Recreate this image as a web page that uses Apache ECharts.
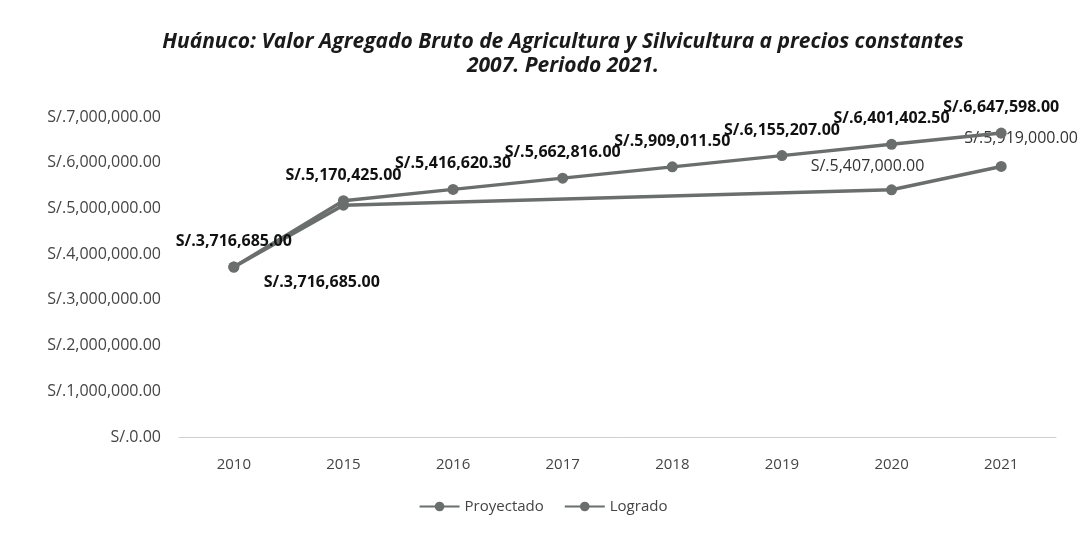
<!DOCTYPE html>
<html><head><meta charset="utf-8">
<script src="https://cdn.jsdelivr.net/npm/echarts@6/dist/echarts.min.js"></script>
<style>html,body{margin:0;padding:0;background:#fff;}#c{width:1086px;height:541px;}</style>
</head><body><div id="c"></div>
<script>
var categories = ['2010','2015','2016','2017','2018','2019','2020','2021'];
var proyectado = [3716685, 5170425, 5416620.30, 5662816, 5909011.50, 6155207, 6401402.50, 6647598];
var logrado = [3716685, 5070000, null, null, null, null, 5407000, 5919000];
var logradoLabeled = [true, false, false, false, false, false, true, true];
var yMin = 0, yMax = 7000000, yStep = 1000000;

function fmt(v){
  var s = v.toFixed(2).split('.');
  return 'S/.' + s[0].replace(/\B(?=(\d{3})+(?!\d))/g, ',') + '.' + s[1];
}
var FONT = '"Open Sans", Lato, sans-serif';
var GREY = '#6a6e6d';

var logradoData = logrado.map(function(v, i){
  if (v === null) return null;
  var lab = {show: logradoLabeled[i]};
  if (i === 0) { lab.position = 'bottom'; lab.offset = [88, -8]; lab.fontWeight = 'bold'; lab.color = '#111'; }
  if (i === 6) { lab.position = 'top'; lab.offset = [-24, 0]; lab.fontWeight = 'normal'; lab.color = '#333'; }
  if (i === 7) { lab.position = 'top'; lab.offset = [20, -4]; lab.fontWeight = 'normal'; lab.color = '#333'; }
  return {value: v, label: lab};
});

var chart = echarts.init(document.getElementById('c'));
chart.setOption({
  backgroundColor: '#fff',
  animation: false,
  title: {
    text: 'Huánuco: Valor Agregado Bruto de Agricultura y Silvicultura a precios constantes\n2007. Periodo 2021.',
    left: 558, top: 25, textAlign: 'center',
    textStyle: {fontFamily: FONT, fontStyle: 'italic', fontWeight: 'bold', fontSize: 21, color: '#1a1a1a', lineHeight: 24}
  },
  legend: {
    bottom: 22, left: 'center',
    itemWidth: 40, itemHeight: 12, itemGap: 20,
    textStyle: {fontFamily: FONT, fontSize: 15, color: '#444'},
    data: ['Proyectado', 'Logrado']
  },
  grid: {left: 179, right: 30, top: 117, bottom: 104},
  xAxis: {
    type: 'category', data: categories, boundaryGap: true,
    axisLine: {lineStyle: {color: '#cfcfcf'}},
    axisTick: {show: false},
    axisLabel: {fontFamily: FONT, fontSize: 15, color: '#444', margin: 20}
  },
  yAxis: {
    type: 'value', min: yMin, max: yMax, interval: yStep,
    axisLine: {show: false}, axisTick: {show: false},
    splitLine: {show: false},
    axisLabel: {fontFamily: FONT, fontSize: 16, color: '#444', margin: 18, formatter: function(v){ return fmt(v); }}
  },
  series: [
    {
      name: 'Proyectado', type: 'line', data: proyectado,
      symbol: 'circle', symbolSize: 11,
      lineStyle: {color: GREY, width: 3.5},
      itemStyle: {color: GREY},
      label: {show: true, position: 'top', distance: 12, fontFamily: FONT, fontWeight: 'bold', fontSize: 16, color: '#111',
        formatter: function(p){ return fmt(p.value); }},
      z: 3
    },
    {
      name: 'Logrado', type: 'line', data: logradoData, connectNulls: true,
      symbol: 'circle', symbolSize: 11,
      lineStyle: {color: GREY, width: 3.5},
      itemStyle: {color: GREY},
      label: {fontFamily: FONT, fontSize: 16, distance: 10,
        formatter: function(p){ return fmt(p.value); }},
      z: 2
    }
  ]
});
</script></body></html>
